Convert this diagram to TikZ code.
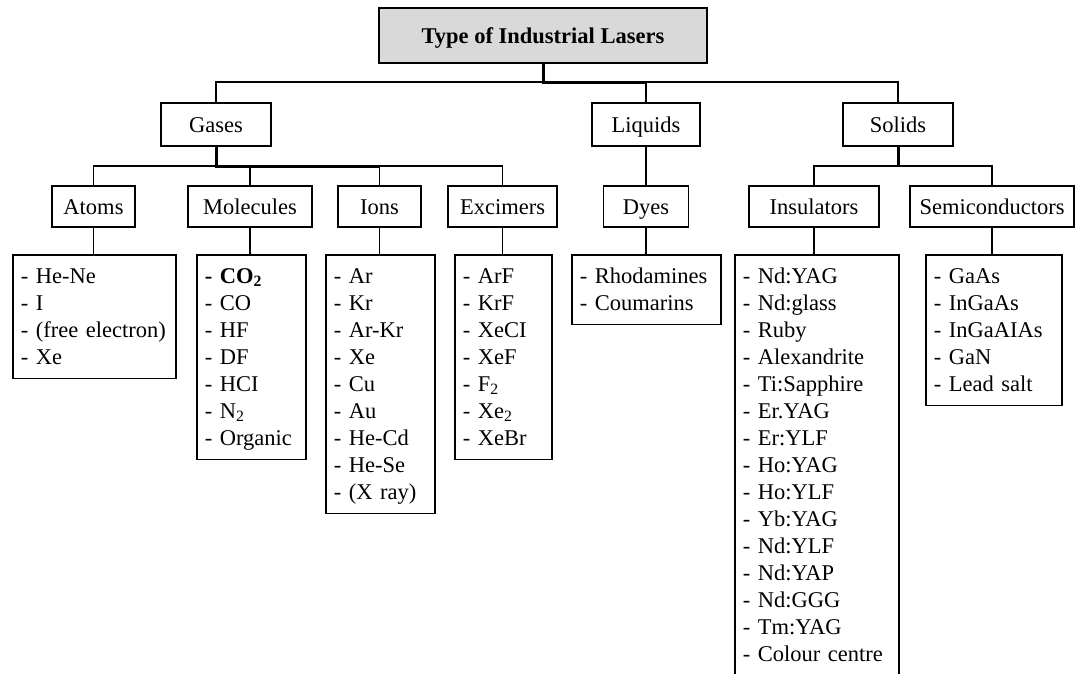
\documentclass[tikz,border=0pt]{standalone}
\usepackage{fontspec}
\setmainfont{Liberation Serif}
\definecolor{titlegray}{RGB}{217,217,217}
\newcommand\firstln{\rule{0pt}{28.5pt}}
\newcommand\lastln{\rule[-14pt]{0pt}{14pt}}
\begin{document}
\begin{tikzpicture}[x=1pt,y=-1pt,
  every node/.style={font=\fontsize{22.5}{27}\selectfont},
  catbox/.style={draw, line width=1.8pt, inner sep=0pt, text height=20pt, text depth=5pt},
  titlebox/.style={catbox, line width=2.4pt, fill=titlegray},
  listbox/.style={draw, line width=1.8pt, anchor=north west, inner xsep=8pt, inner ysep=0pt, align=left},
  conn/.style={line width=1.2pt},
  thk/.style={line width=3pt}]
\useasboundingbox (0,0) rectangle (1075,673);

% top
\node[titlebox, minimum width=328pt, minimum height=55pt] (title) at (543,35.5) {\textbf{Type of Industrial Lasers}};

% level 1
\node[catbox, minimum width=110pt, minimum height=43pt] (gases) at (216,124.5) {Gases};
\node[catbox, minimum width=108pt, minimum height=43pt] (liquids) at (646,124.5) {Liquids};
\node[catbox, minimum width=110pt, minimum height=43pt] (solids) at (898,124.5) {Solids};

% level 2
\node[catbox, minimum width=83pt, minimum height=41pt] (atoms) at (93.5,206.5) {Atoms};
\node[catbox, minimum width=124pt, minimum height=41pt] (molecules) at (250,206.5) {Molecules};
\node[catbox, minimum width=83pt, minimum height=41pt] (ions) at (379.5,206.5) {Ions};
\node[catbox, minimum width=109pt, minimum height=41pt] (excimers) at (502.5,206.5) {Excimers};
\node[catbox, minimum width=85pt, minimum height=41pt] (dyes) at (646,206.5) {Dyes};
\node[catbox, minimum width=130pt, minimum height=41pt] (insulators) at (814,206.5) {Insulators};
\node[catbox, minimum width=164pt, minimum height=41pt] (semi) at (992,206.5) {Semiconductors};

% lists
\node[listbox, text width=147pt] (atomslist) at (12,254)
 {\firstln- He-Ne\\- I\\- (free electron)\\- Xe\lastln};
\node[listbox, text width=93pt] (moleclist) at (196,254)
 {\firstln\textbf{- CO\textsubscript{2}}\\- CO\\- HF\\- DF\\- HCI\\- N\textsubscript{2}\\- Organic\lastln};
\node[listbox, text width=93pt] (ionslist) at (325,254)
 {\firstln- Ar\\- Kr\\- Ar-Kr\\- Xe\\- Cu\\- Au\\- He-Cd\\- He-Se\\- (X ray)\lastln};
\node[listbox, text width=81pt] (excilist) at (454,254)
 {\firstln- ArF\\- KrF\\- XeCI\\- XeF\\- F\textsubscript{2}\\- Xe\textsubscript{2}\\- XeBr\lastln};
\node[listbox, text width=133pt] (dyeslist) at (571,254)
 {\firstln- Rhodamines\\- Coumarins\lastln};
\node[listbox, text width=148pt] (inslist) at (734,254)
 {\firstln- Nd:YAG\\- Nd:glass\\- Ruby\\- Alexandrite\\- Ti:Sapphire\\- Er.YAG\\- Er:YLF\\- Ho:YAG\\- Ho:YLF\\- Yb:YAG\\- Nd:YLF\\- Nd:YAP\\- Nd:GGG\\- Tm:YAG\\- Colour centre\lastln};
\node[listbox, text width=120pt] (semilist) at (925,254)
 {\firstln- GaAs\\- InGaAs\\- InGaAIAs\\- GaN\\- Lead salt\lastln};

% junctions
\coordinate (j0) at (543,82);
\coordinate (jg) at (216,166);
\coordinate (js) at (898,166);

% connectors (thin)
\draw[conn] (j0) -| (gases.north);
\draw[conn] (j0) -| (liquids.north);
\draw[conn] (j0) -| (solids.north);
\draw[conn] (jg) -| (atoms.north);
\draw[conn] (jg) -| (molecules.north);
\draw[conn] (jg) -| (ions.north);
\draw[conn] (jg) -| (excimers.north);
\draw[conn] (liquids.south) -- (dyes.north);
\draw[conn] (js) -| (insulators.north);
\draw[conn] (js) -| (semi.north);
\draw[conn] (atoms.south) -- (atoms.south |- atomslist.north);
\draw[conn] (molecules.south) -- (molecules.south |- moleclist.north);
\draw[conn] (ions.south) -- (ions.south |- ionslist.north);
\draw[conn] (excimers.south) -- (excimers.south |- excilist.north);
\draw[conn] (dyes.south) -- (dyes.south |- dyeslist.north);
\draw[conn] (insulators.south) -- (insulators.south |- inslist.north);
\draw[conn] (semi.south) -- (semi.south |- semilist.north);

% connectors (thick)
\draw[thk] (title.south) -- (j0) -- (j0 -| liquids.north);
\draw[thk] (gases.south) -- (jg) -- (jg -| ions.north);
\draw[thk] (solids.south) -- (js);
\end{tikzpicture}
\end{document}
